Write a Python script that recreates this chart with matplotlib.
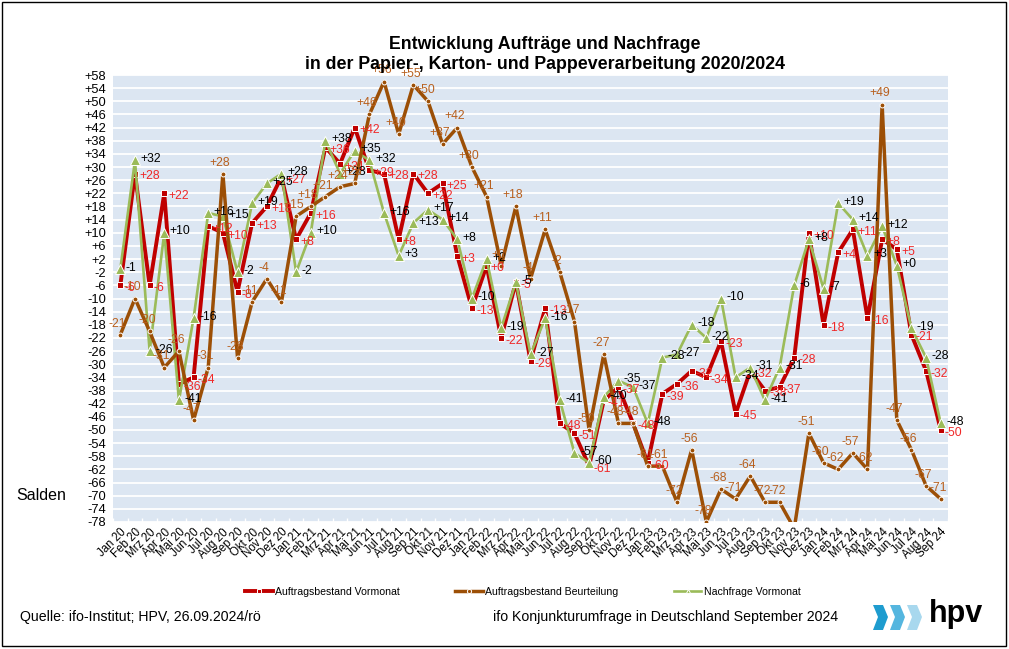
import matplotlib
matplotlib.use("Agg")
import matplotlib.pyplot as plt
import numpy as np
from matplotlib import font_manager
from matplotlib.patches import Polygon, Rectangle

month_abbr = ["Jan", "Feb", "Mrz", "Apr", "Mai", "Jun", "Jul", "Aug", "Sep", "Okt", "Nov", "Dez"]
years = ["20", "21", "22", "23", "24"]
months = [f"{m} {y}" for y in years for m in month_abbr][:57]

# Auftragsbestand Vormonat
auftrag_vormonat = [-6, 28, -6, 22, -36, -34, 12, 10, -8, 13, 18, 27,
                    8, 16, 36, 31, 42, 29, 28, 8, 28, 22, 25, 3,
                    -13, 0, -22, -5, -29, -13, -48, -51, -61, -41, -37, -48,
                    -60, -39, -36, -32, -34, -23, -45, -32, -38, -37, -28, 10,
                    -18, 4, 11, -16, 8, 5, -21, -32, -50]
# Auftragsbestand Beurteilung
auftrag_beurteilung = [-21, -10, -20, -31, -26, -47, -31, 28, -28, -11, -4, -11,
                       15, 18, 21, 24, 25, 46, 56, 40, 55, 50, 37, 42,
                       30, 21, 0, 18, -4, 11, -2, -17, -50, -27, -48, -48,
                       -61, -61, -72, -56, -78, -68, -71, -64, -72, -72, -80, -51,
                       -60, -62, -57, -62, 49, -47, -56, -67, -71]
# Nachfrage Vormonat
nachfrage_vormonat = [-1, 32, -26, 10, -41, -16, 16, 15, -2, 19, 25, 28,
                      -2, 10, 38, 28, 35, 32, 16, 3, 13, 17, 14, 8,
                      -10, 2, -19, -5, -27, -16, -41, -57, -60, -40, -35, -37,
                      -48, -28, -27, -18, -22, -10, -34, -31, -41, -31, -6, 8,
                      -7, 19, 14, 3, 12, 0, -19, -28, -48]

yticks = list(range(-78, 59, 4))

RED = "#C00000"
RED_TXT = "#F02828"
BROWN = "#9C4F06"
BROWN_TXT = "#B8601E"
GREEN = "#9BBB59"

names = {f.name for f in font_manager.fontManager.ttflist}
narrow = "Liberation Sans Narrow" if "Liberation Sans Narrow" in names else "Liberation Sans"
nscale = 1.2 if narrow == "Liberation Sans Narrow" else 1.0
plt.rcParams["font.family"] = ["Liberation Sans", "DejaVu Sans"]

fig = plt.figure(figsize=(10.09, 6.49), dpi=100)
ax = fig.add_axes([0.112, 0.1957, 0.8276, 0.6887])
ax.set_facecolor("#DCE6F2")
for s in ax.spines.values():
    s.set_visible(False)

x = np.arange(len(months))
ax.set_xlim(-0.5, len(months) - 0.5)
ax.set_ylim(-78, 58)
ax.set_yticks(yticks)
ax.set_yticklabels([f"{v:+d}" for v in yticks])
ax.grid(axis="y", color="white", lw=1.3, zorder=0)
ax.set_axisbelow(True)
ax.tick_params(axis="y", length=0, labelsize=9.3, pad=5)
ax.set_xticks(x)
ax.set_xticklabels(months, rotation=45, ha="right", rotation_mode="anchor", fontsize=8.3)
ax.tick_params(axis="x", length=0, pad=3)
ax.set_xticks(np.arange(len(months) + 1) - 0.5, minor=True)
ax.tick_params(axis="x", which="minor", direction="in", length=3, color="white", width=1)

ax.plot(x, auftrag_vormonat, color=RED, lw=2.8, marker="s", ms=5, mfc=RED, mec="white",
        mew=0.7, zorder=3, label="Auftragsbestand Vormonat")
ax.plot(x, auftrag_beurteilung, color=BROWN, lw=2.5, marker="o", ms=3.5, mfc=BROWN, mec="white",
        mew=0.7, zorder=5, label="Auftragsbestand Beurteilung")
ax.plot(x, nachfrage_vormonat, color=GREEN, lw=1.9, marker="^", ms=7, mfc=GREEN, mec="white",
        mew=0.7, zorder=4, label="Nachfrage Vormonat")

for i, v in enumerate(auftrag_vormonat):
    ax.annotate(f"{v:+d}", (i, v), xytext=(3, -2), textcoords="offset points", ha="left",
                va="center", color=RED_TXT, fontsize=8.7, zorder=6, annotation_clip=False)
for i, v in enumerate(nachfrage_vormonat):
    ax.annotate(f"{v:+d}", (i, v), xytext=(4, 1), textcoords="offset points", ha="left",
                va="center", color="black", fontsize=8.7, zorder=6, annotation_clip=False)
for i, v in enumerate(auftrag_beurteilung):
    if v < -78:
        continue
    ax.annotate(f"{v:+d}", (i, v), xytext=(-2, 8), textcoords="offset points", ha="center",
                va="center", color=BROWN_TXT, fontsize=8.7, zorder=6, annotation_clip=False)

fig.text(0.540, 0.931, "Entwicklung Aufträge und Nachfrage", ha="center", va="center",
         fontsize=12.8, fontweight="bold")
fig.text(0.540, 0.900, "in der Papier-, Karton- und Pappeverarbeitung 2020/2024", ha="center",
         va="center", fontsize=12.8, fontweight="bold")
fig.text(16 / 1009, 1 - 495 / 649, "Salden", fontsize=11.5, va="center")

leg = fig.legend(loc="center", bbox_to_anchor=(0.518, 0.088), ncol=3, frameon=False,
                 handlelength=2.6, columnspacing=5.3, handletextpad=0.2,
                 prop={"family": narrow, "size": 7.6 * nscale})
for h in leg.legend_handles:
    h.set_markersize(3)

fig.text(20 / 1009, 1 - 617 / 649, "Quelle: ifo-Institut; HPV, 26.09.2024/rö", va="center",
         fontsize=10.2 * nscale, family=narrow)
fig.text(493 / 1009, 1 - 617 / 649, "ifo Konjunkturumfrage in Deutschland September 2024",
         va="center", fontsize=10.2 * nscale, family=narrow)

# hpv logo
logo_colors = ["#1E9CCF", "#55B6DF", "#A8D8EE"]
for k, c in enumerate(logo_colors):
    x0 = 873 + k * 17
    pts = [(x0, 605), (x0 + 10, 605), (x0 + 15, 617), (x0 + 10, 630), (x0, 630), (x0 + 5, 617)]
    fig.patches.append(Polygon([(px / 1009, 1 - py / 649) for px, py in pts], closed=True,
                               transform=fig.transFigure, fc=c, ec="none"))
fig.text(929 / 1009, 1 - 614 / 649, "hpv", va="center", ha="left", fontsize=22,
         fontweight="bold", color="black")

fig.patches.append(Rectangle((0.002, 0.004), 0.995, 0.993, transform=fig.transFigure,
                             fill=False, ec="black", lw=1))

fig.savefig("out.png", dpi=100)
